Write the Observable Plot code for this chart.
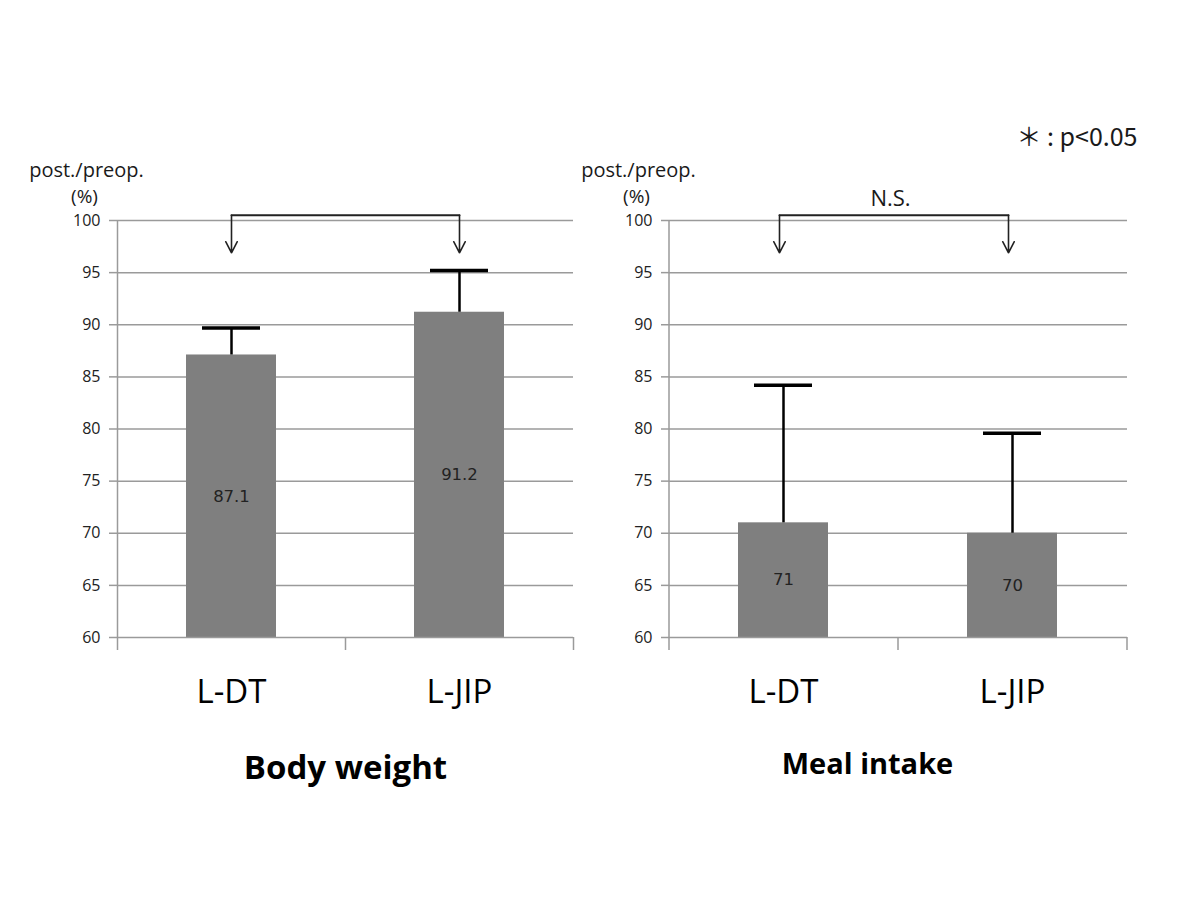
<!DOCTYPE html>
<html>
<head>
<meta charset="utf-8">
<script src="https://cdn.jsdelivr.net/npm/d3@7"></script>
<script src="https://cdn.jsdelivr.net/npm/@observablehq/plot@0.6"></script>
<style>
  html, body { margin: 0; padding: 0; background: #fff; }
  #wrap { position: relative; width: 1200px; height: 898px; overflow: hidden; }
  #wrap svg { position: absolute; top: 0; overflow: visible; }
</style>
</head>
<body>
<div id="wrap"></div>
<script>
// ---- data ----
const categories = ["L-DT", "L-JIP"];
const bodyWeightMean = [87.1, 91.2];
const bodyWeightUpper = [89.7, 95.2];
const mealIntakeMean = [71, 70];
const mealIntakeUpper = [84.2, 79.6];
const yTicks = [60, 65, 70, 75, 80, 85, 90, 95, 100];
const panelTitles = ["Body weight", "Meal intake"];
const bracketLabels = ["", "N.S."];
const yLabelLines = ["post./preop.", "(%)"];
const legendNote = "＊ : p<0.05";
const bracketTop = 100.5;
const bracketTip = 96.9;

const tableOf = (means, uppers) => categories.map((c, i) => ({cat: c, mean: means[i], upper: uppers[i]}));

const fontSmall = "Tahoma, 'DejaVu Sans', Verdana, sans-serif";
const fontLarge = "'Open Sans', 'Noto Sans', Lato, sans-serif";

function panel({data, title, bracketLabel, left, width, marginLeft, marginRight, titleDy, titleDx, titleSize, note, bracketDx}) {
  const H = 898, marginTop = 220, marginBottom = 261;
  const innerW = width - marginLeft - marginRight;
  const halfStep = innerW / 4;
  const marks = [
    // gridlines
    Plot.ruleY(yTicks.filter(d => d > 60), {stroke: "#9a9a9a", strokeWidth: 1.5}),
    // bars
    Plot.barY(data, {x: "cat", y1: 60, y2: "mean", fill: "#7f7f7f"}),
    // baseline & y axis line
    Plot.ruleY([60], {stroke: "#9a9a9a", strokeWidth: 1.5}),
    Plot.ruleX([categories[0]], {dx: -halfStep, y1: 60, y2: 100, stroke: "#9a9a9a", strokeWidth: 1.5}),
    // category boundary ticks below baseline
    Plot.ruleX(categories, {dx: -halfStep, y1: 60, y2: 58.75, stroke: "#9a9a9a", strokeWidth: 1.5}),
    Plot.ruleX([categories[categories.length - 1]], {dx: halfStep, y1: 60, y2: 58.75, stroke: "#9a9a9a", strokeWidth: 1.5}),
    // error bars
    Plot.ruleX(data, {x: "cat", y1: "mean", y2: "upper", stroke: "#000", strokeWidth: 2.5}),
    Plot.tickY(data, {x: "cat", y: "upper", stroke: "#000", strokeWidth: 3.5, insetLeft: 16, insetRight: 16}),
    // value labels
    Plot.text(data, {x: "cat", y: d => (60 + d.mean) / 2, text: d => String(d.mean), fontSize: 16.5, fill: "#222", fontFamily: fontSmall}),
    // bracket
    Plot.line(categories.map(c => ({cat: c, v: bracketTop})), {x: "cat", y: "v", dx: bracketDx, stroke: "#222", strokeWidth: 2}),
    Plot.arrow(categories.map(c => ({cat: c})), {x: "cat", y1: bracketTop, y2: bracketTip, dx: bracketDx, stroke: "#222", strokeWidth: 1.6, headLength: 12, headAngle: 55}),
    Plot.text([bracketLabel], {frameAnchor: "top", lineAnchor: "middle", dx: -8, dy: -22, text: d => d, fontSize: 22, fill: "#1a1a1a", fontFamily: fontLarge}),
    // y label
    Plot.text([yLabelLines[0]], {frameAnchor: "top-left", lineAnchor: "middle", dx: -31, dy: -50, text: d => d, textAnchor: "middle", fontSize: 20, fill: "#1a1a1a", fontFamily: fontLarge}),
    Plot.text([yLabelLines[1]], {frameAnchor: "top-left", lineAnchor: "middle", dx: -33, dy: -24, text: d => d, textAnchor: "middle", fontSize: 19, fill: "#1a1a1a", fontFamily: fontLarge}),
    // panel title
    Plot.text([title], {frameAnchor: "bottom", dx: titleDx, dy: titleDy, text: d => d, fontSize: titleSize, fontWeight: "bold", fill: "#000", fontFamily: fontLarge}),
    // axes
    Plot.axisY(yTicks, {tickSize: 8, tickPadding: 9, stroke: "#9a9a9a", strokeWidth: 1.5, fill: "#222", fontSize: 16, fontFamily: fontLarge}),
    Plot.axisX({tickSize: 0, tickPadding: 42, fontSize: 33, fill: "#000", fontFamily: fontLarge, label: null})
  ];
  if (note) {
    marks.push(Plot.text([note], {frameAnchor: "top-right", lineAnchor: "middle", dx: 10, dy: -83, text: d => d, textAnchor: "end", fontSize: 25, fill: "#1a1a1a", fontFamily: "'Noto Sans CJK JP', 'Noto Sans', sans-serif"}));
  }
  const svg = Plot.plot({
    width, height: H, marginLeft, marginRight, marginTop, marginBottom,
    x: {domain: categories, paddingInner: 0.605, paddingOuter: 0.3025, axis: null},
    y: {domain: [60, 100], axis: null},
    style: {background: "transparent", overflow: "visible"},
    marks
  });
  svg.style.left = left + "px";
  return svg;
}

const wrap = document.getElementById("wrap");
wrap.appendChild(panel({
  data: tableOf(bodyWeightMean, bodyWeightUpper),
  title: panelTitles[0], bracketLabel: bracketLabels[0],
  left: 0, width: 576, marginLeft: 117, marginRight: 3, titleDy: 141, titleDx: 0, titleSize: 33, note: null, bracketDx: 0
}));
wrap.appendChild(panel({
  data: tableOf(mealIntakeMean, mealIntakeUpper),
  title: panelTitles[1], bracketLabel: bracketLabels[1],
  left: 576, width: 624, marginLeft: 93, marginRight: 73, titleDy: 136, titleDx: -31, titleSize: 29, note: legendNote, bracketDx: -4
}));
</script>
</body>
</html>
